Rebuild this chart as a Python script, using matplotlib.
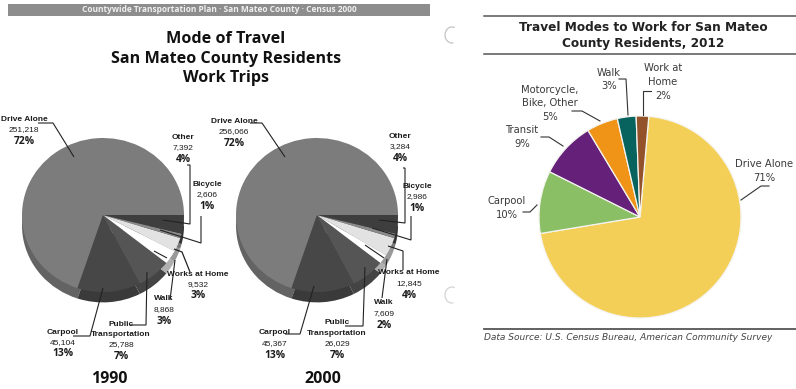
import matplotlib
matplotlib.use("Agg")
import matplotlib.pyplot as plt
from matplotlib import font_manager as fm
from matplotlib.patches import Arc

W, H = 796, 389

# Census panels: percentage shares as printed, and the counts shown next to them
modes_census = ["Drive Alone", "Carpool", "Public Transportation", "Walk",
                "Works at Home", "Bicycle", "Other"]
shares_1990 = [72, 13, 7, 3, 3, 1, 4]
shares_2000 = [72, 13, 7, 2, 4, 1, 4]
counts_1990 = ["251,218", "45,104", "25,788", "8,868", "9,532", "2,606", "7,392"]
counts_2000 = ["256,066", "45,367", "26,029", "7,609", "12,845", "2,986", "3,284"]
grey_tops = ["#7c7c7c", "#474747", "#555555", "#ffffff", "#e2e2e2", "#8a8a8a", "#3e3e3e"]
grey_sides = ["#636363", "#3a3a3a", "#444444", "#b0b0b0", "#999999", "#777777", "#333333"]

# 2012 panel
modes_2012 = ["Drive Alone", "Carpool", "Transit", "Motorcycle, Bike, Other",
              "Walk", "Work at Home"]
shares_2012 = [71, 10, 9, 5, 3, 2]
colors_2012 = ["#f4cf58", "#8bbf66", "#652079", "#ef9417", "#08635f", "#93522a"]

names = {f.name for f in fm.fontManager.ttflist}
narrow = "Liberation Sans Narrow" if "Liberation Sans Narrow" in names else "Liberation Sans"

fig = plt.figure(figsize=(W / 100, H / 100), dpi=100, facecolor="white")
page = fig.add_axes([0, 0, 1, 1], zorder=3)
page.set_xlim(0, W)
page.set_ylim(H, 0)
page.axis("off")
page.patch.set_alpha(0)


def pie_axes(cx, cy, rx, ry, pad=1.2):
    """Axes in pixel placement, centred on (cx, cy) with the unit circle as rx by ry."""
    ax = fig.add_axes([(cx - rx * pad) / W, 1 - (cy + ry * pad) / H,
                       2 * rx * pad / W, 2 * ry * pad / H], zorder=1)
    return ax


def census_pie(cx, cy, shares):
    ax = pie_axes(cx, cy, 81, 77, pad=1.3)
    ax.pie(shares, colors=grey_sides, startangle=0, center=(0, -0.135), radius=1)
    ax.pie(shares, colors=grey_tops, startangle=0, center=(0, 0), radius=1)
    ax.set_aspect("auto")
    ax.set_xlim(-1.3, 1.3)
    ax.set_ylim(-1.3, 1.3)


def leader(xs, ys, color="#222222", lw=0.8):
    page.plot(xs, ys, color=color, lw=lw, solid_capstyle="butt", solid_joinstyle="miter")


def census_label(x, y, name_lines, count, pct):
    """Stacked label: mode name, count, bold percentage; y is the top line's centre."""
    for i, line in enumerate(name_lines):
        page.text(x, y + i * 10.5, line, family=narrow, fontsize=6.0, weight="bold",
                  color="#1c1c1c", ha="center", va="center")
    n = len(name_lines)
    page.text(x, y + n * 10.5, count, family=narrow, fontsize=6.0,
              color="#1c1c1c", ha="center", va="center")
    page.text(x, y + n * 10.5 + 11.5, pct, family="Open Sans", fontsize=7.4, weight="bold",
              color="#1c1c1c", ha="center", va="center")


# Banner and headline of the census page
page.fill_between([8, 430], 3.5, 16, color="#8d8d8d", lw=0)
page.text(219, 9.5, "Countywide Transportation Plan · San Mateo County · Census 2000",
          family="Open Sans", fontsize=6.0, weight="bold", color="#f0f0f0",
          ha="center", va="center")
for y, line in zip((39, 59, 78), ("Mode of Travel", "San Mateo County Residents", "Work Trips")):
    page.text(226, y, line, family="Open Sans", fontsize=11.6, weight="bold",
              color="#111111", ha="center", va="center")

# 1990 pie and its labels
census_pie(103, 215, shares_1990)
census_label(24, 119.5, ["Drive Alone"], counts_1990[0], f"{shares_1990[0]}%")
leader([38, 53, 74], [123, 123, 157])
census_label(183, 137, ["Other"], counts_1990[6], f"{shares_1990[6]}%")
leader([187, 190, 190, 163], [165, 165, 224, 220])
census_label(207, 184.5, ["Bicycle"], counts_1990[5], f"{shares_1990[5]}%")
leader([201, 201, 160], [216, 243, 230])
census_label(198, 274, ["Works at Home"], counts_1990[4], f"{shares_1990[4]}%")
leader([190, 182, 174], [272, 252, 249], lw=0.9)
census_label(164, 299, ["Walk"], counts_1990[3], f"{shares_1990[3]}%")
leader([170, 175], [300, 260])
leader([154, 167], [251, 258])
census_label(121, 324, ["Public", "Transportation"], counts_1990[2], f"{shares_1990[2]}%")
leader([130, 146, 147], [325, 325, 272])
census_label(63, 332, ["Carpool"], counts_1990[1], f"{shares_1990[1]}%")
leader([73, 90, 103], [336, 336, 288])
page.text(109, 379, "1990", family="Open Sans", fontsize=11.5, weight="bold",
          color="#111111", ha="center", va="center")

# 2000 pie and its labels
census_pie(317, 215, shares_2000)
census_label(234, 121, ["Drive Alone"], counts_2000[0], f"{shares_2000[0]}%")
leader([250, 262, 285], [123, 123, 157])
census_label(400, 136, ["Other"], counts_2000[6], f"{shares_2000[6]}%")
leader([403, 405, 405, 379], [168, 168, 223, 220])
census_label(417, 186, ["Bicycle"], counts_2000[5], f"{shares_2000[5]}%")
leader([411, 411, 372], [216, 240, 228])
census_label(409, 273, ["Works at Home"], counts_2000[4], f"{shares_2000[4]}%")
leader([403, 403, 388], [270, 251, 246])
census_label(384, 303, ["Walk"], counts_2000[3], f"{shares_2000[3]}%")
leader([382, 387], [298, 259])
leader([365, 384], [245, 258])
census_label(337, 323, ["Public", "Transportation"], counts_2000[2], f"{shares_2000[2]}%")
leader([345, 363, 365], [326, 326, 267])
census_label(275, 333, ["Carpool"], counts_2000[1], f"{shares_2000[1]}%")
leader([285, 300, 314], [334, 334, 286])
page.text(323, 379, "2000", family="Open Sans", fontsize=11.5, weight="bold",
          color="#111111", ha="center", va="center")

# Punch-hole ghosts along the scanned page's edge
for cy, gray in ((35, "#c4c4c4"), (295, "#d4d4d4")):
    page.add_patch(Arc((452, cy), 14, 16, theta1=80, theta2=290, color=gray, lw=0.9))

# 2012 panel: rules, title, source line
for y, lw in ((15.5, 1.1), (54, 1.1), (328.5, 1.3)):
    page.plot([484, 796], [y, y], color="#555555", lw=lw)
for y, line in ((27, "Travel Modes to Work for San Mateo"), (43, "County Residents, 2012")):
    page.text(643, y, line, family="DejaVu Sans", fontsize=8.7, weight="bold",
              color="#222222", ha="center", va="center")
page.text(484, 338, "Data Source: U.S. Census Bureau, American Community Survey",
          family="DejaVu Sans", style="italic", fontsize=6.5, color="#444444",
          ha="left", va="center")

# 2012 pie, clockwise from just right of twelve o'clock
ax_2012 = pie_axes(640, 217, 101, 101, pad=1.05)
ax_2012.pie(shares_2012, colors=colors_2012, startangle=85, counterclock=False,
            wedgeprops=dict(edgecolor="#f4f4f0", linewidth=0.9))
ax_2012.set_aspect("auto")
ax_2012.set_xlim(-1.05, 1.05)
ax_2012.set_ylim(-1.05, 1.05)


def label_2012(x, ys, lines):
    for y, line in zip(ys, lines):
        page.text(x, y, line, family="DejaVu Sans", fontsize=7.2, color="#3a3a3a",
                  ha="center", va="center")


def leader_2012(xs, ys):
    page.plot(xs, ys, color="#333333", lw=0.8)


label_2012(764, (164, 178), ["Drive Alone", f"{shares_2012[0]}%"])
leader_2012([769, 761, 741], [186, 186, 200])
label_2012(507, (201, 215), ["Carpool", f"{shares_2012[1]}%"])
leader_2012([523, 530, 537], [212, 212, 205])
label_2012(522, (130, 144), ["Transit", f"{shares_2012[2]}%"])
leader_2012([541, 549, 563], [137, 137, 146])
label_2012(550, (90, 103, 117), ["Motorcycle,", "Bike, Other", f"{shares_2012[3]}%"])
leader_2012([572, 582, 600], [111, 111, 121])
label_2012(609, (73, 86), ["Walk", f"{shares_2012[4]}%"])
leader_2012([619, 626, 628], [79, 79, 115])
label_2012(663, (68, 82, 96), ["Work at", "Home", f"{shares_2012[5]}%"])
leader_2012([651, 643, 643], [91, 91, 115])

fig.savefig("out.png", dpi=100, facecolor="white")
